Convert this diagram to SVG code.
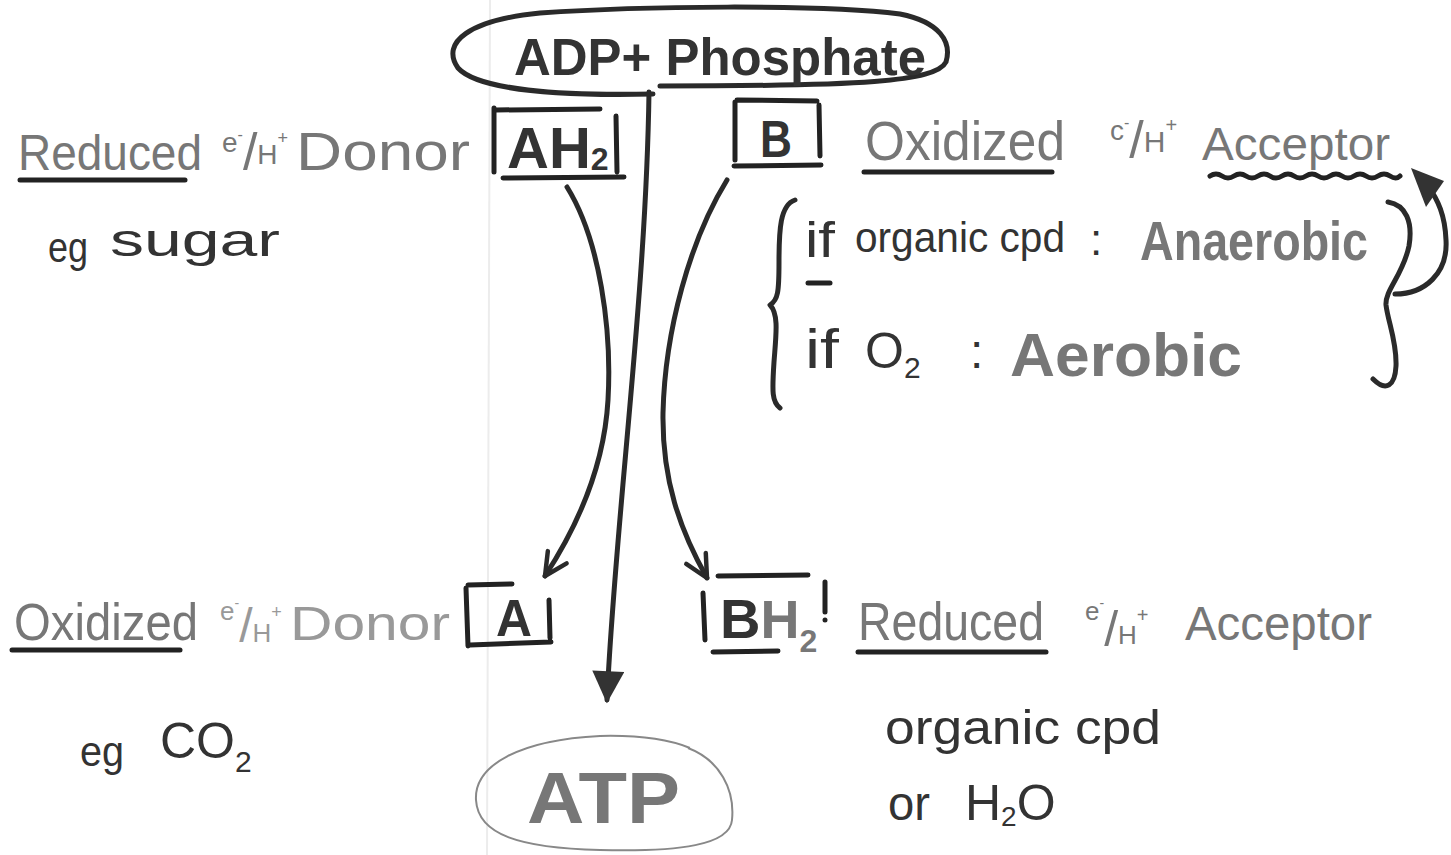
<svg xmlns="http://www.w3.org/2000/svg" width="1451" height="855" viewBox="0 0 1451 855">
<defs>
<style>
text{font-family:"Liberation Sans","DejaVu Sans",sans-serif}
.dk{fill:#333}
.gr{fill:#777}
.lg{fill:#999}
.b{font-weight:bold}
.ln{fill:none;stroke:#2a2a2a;stroke-width:5;stroke-linecap:round;stroke-linejoin:round}
.ul{fill:none;stroke:#222;stroke-width:5;stroke-linecap:round}
.thin{fill:none;stroke:#888;stroke-width:2}
</style>
<marker id="tri" viewBox="0 0 10 10" refX="9" refY="5" markerWidth="40" markerHeight="32" markerUnits="userSpaceOnUse" orient="auto">
<path d="M0,0 L10,5 L0,10 Z" fill="#333"/>
</marker>
<marker id="vee" viewBox="0 0 10 10" refX="9" refY="5" markerWidth="28" markerHeight="28" markerUnits="userSpaceOnUse" orient="auto">
<path d="M1,1 L9,5 L1,9" fill="none" stroke="#2a2a2a" stroke-width="1.6" stroke-linecap="round" stroke-linejoin="round"/>
</marker>
</defs>
<rect width="1451" height="855" fill="#fff"/>
<line x1="490" y1="0" x2="487" y2="855" stroke="#ececec" stroke-width="2"/>

<g id="connectors">
<path class="ln" d="M649,92 C646,300 615,520 607,700" marker-end="url(#tri)"/>
<path class="ln" d="M567,187 C600,240 612,330 608,400 C604,470 575,530 545,576" marker-end="url(#vee)"/>
<path class="ln" d="M727,180 C690,240 665,330 663,413 C662,480 680,530 707,578" marker-end="url(#vee)"/>
<path class="ln" d="M1395,294 C1425,294 1448,273 1446,240 C1445,215 1438,200 1428,186"/>
<path d="M1411,168 L1444,181 L1426,207 Z" fill="#333"/>
</g>

<g id="adp">
<path class="ln" d="M653,94 C560,96 478,90 458,68 C440,42 470,20 540,13 C640,6 820,4 900,14 C940,22 952,42 946,62 C936,82 860,86 660,86"/>
<text class="dk b" x="514" y="75" font-size="52" textLength="412" lengthAdjust="spacingAndGlyphs">ADP+ Phosphate</text>
</g>

<g id="donor-reduced">
<text class="gr" x="18" y="170" font-size="50" textLength="184" lengthAdjust="spacingAndGlyphs">Reduced</text>
<line class="ul" x1="20" y1="180" x2="185" y2="180"/>
<text class="gr" x="222" y="152" font-size="28">e<tspan font-size="16" dy="-12">-</tspan><tspan font-size="52" dy="30">/</tspan><tspan font-size="28" dy="-6">H</tspan><tspan font-size="18" dy="-20">+</tspan></text>
<text class="gr" x="296" y="170" font-size="54" textLength="174" lengthAdjust="spacingAndGlyphs">Donor</text>
<text class="dk" x="48" y="262" font-size="42" textLength="40" lengthAdjust="spacingAndGlyphs">eg</text>
<text class="dk" x="110" y="256" font-size="46" textLength="170" lengthAdjust="spacingAndGlyphs">sugar</text>
</g>

<g id="ah2">
<path class="ul" d="M494,108 L494,172 M496,110 L600,109 M616,116 L617,172 M503,178 L624,177"/>
<text class="dk b" x="507" y="168" font-size="58">AH<tspan font-size="32" dy="2">2</tspan></text>
</g>

<g id="b-box">
<path class="ul" d="M735,102 L735,160 M737,100 L817,101 M819,105 L820,156 M734,166 L821,165"/>
<text class="dk b" x="760" y="157" font-size="52" textLength="32" lengthAdjust="spacingAndGlyphs">B</text>
</g>

<g id="acceptor-oxidized">
<text class="gr" x="865" y="160" font-size="56" textLength="200" lengthAdjust="spacingAndGlyphs">Oxidized</text>
<line class="ul" x1="864" y1="172" x2="1052" y2="172"/>
<text class="gr" x="1110" y="140" font-size="28">c<tspan font-size="16" dy="-12">-</tspan><tspan font-size="52" dy="30">/</tspan><tspan font-size="30" dy="-6">H</tspan><tspan font-size="20" dy="-20">+</tspan></text>
<text class="gr" x="1202" y="160" font-size="46" textLength="188" lengthAdjust="spacingAndGlyphs">Acceptor</text>
<path class="ul" d="M1210,176 q6,-4 12,0 t12,0 t12,0 t12,0 t12,0 t12,0 t12,0 t12,0 t12,0 t12,0 t12,0 t12,0 t12,0 t12,0 t12,0 t10,0"/>
</g>

<g id="conditions">
<path class="ln" d="M795,200 C780,205 779,230 779,262 C779,292 778,300 770,305 C779,314 776,335 774,362 C772,392 772,402 780,408"/>
<text class="dk" x="805" y="257" font-size="50" textLength="30" lengthAdjust="spacingAndGlyphs">if</text>
<line class="ul" x1="808" y1="283" x2="830" y2="283"/>
<text class="dk" x="855" y="252" font-size="42" textLength="210" lengthAdjust="spacingAndGlyphs">organic cpd</text>
<text class="dk" x="1090" y="255" font-size="44">:</text>
<text class="gr b" x="1140" y="260" font-size="56" textLength="228" lengthAdjust="spacingAndGlyphs">Anaerobic</text>
<text class="dk" x="805" y="368" font-size="56" textLength="34" lengthAdjust="spacingAndGlyphs">if</text>
<text class="dk" x="865" y="368" font-size="50">O<tspan font-size="30" dy="10">2</tspan></text>
<text class="dk" x="970" y="368" font-size="48">:</text>
<text class="gr b" x="1010" y="376" font-size="62" textLength="232" lengthAdjust="spacingAndGlyphs">Aerobic</text>
<path class="ln" d="M1388,202 C1406,205 1413,222 1409,246 C1403,275 1385,290 1386,305 C1388,322 1397,342 1396,366 C1395,386 1386,392 1373,379"/>
</g>

<g id="donor-oxidized">
<text class="gr" x="14" y="640" font-size="52" textLength="184" lengthAdjust="spacingAndGlyphs">Oxidized</text>
<line class="ul" x1="12" y1="650" x2="180" y2="650"/>
<text class="lg" x="220" y="620" font-size="26">e<tspan font-size="14" dy="-12">-</tspan><tspan font-size="48" dy="34">/</tspan><tspan font-size="26">H</tspan><tspan font-size="18" dy="-24">+</tspan></text>
<text class="lg" x="290" y="640" font-size="48" textLength="160" lengthAdjust="spacingAndGlyphs">Donor</text>
<text class="dk" x="80" y="766" font-size="42" textLength="44" lengthAdjust="spacingAndGlyphs">eg</text>
<text class="dk" x="160" y="758" font-size="50">CO<tspan font-size="30" dy="14">2</tspan></text>
</g>

<g id="a-box">
<path class="ul" d="M466,588 L468,646 M468,585 L512,584 M549,600 L550,638 M470,645 L551,642"/>
<text class="dk b" x="496" y="636" font-size="52" textLength="36" lengthAdjust="spacingAndGlyphs">A</text>
</g>

<g id="bh2">
<path class="ul" d="M703,593 L705,640 M718,576 L808,575 M713,652 L778,651 M825,582 L825,612"/>
<circle cx="825" cy="620" r="2.5" fill="#222"/>
<text class="dk b" x="720" y="638" font-size="56">B<tspan class="gr" font-size="54">H</tspan><tspan class="gr" font-size="32" dy="14">2</tspan></text>
</g>

<g id="acceptor-reduced">
<text class="gr" x="858" y="640" font-size="54" textLength="186" lengthAdjust="spacingAndGlyphs">Reduced</text>
<line class="ul" x1="858" y1="652" x2="1046" y2="652"/>
<text class="gr" x="1085" y="620" font-size="26">e<tspan font-size="14" dy="-12">-</tspan><tspan font-size="50" dy="38">/</tspan><tspan font-size="26" dy="-2">H</tspan><tspan font-size="20" dy="-22">+</tspan></text>
<text class="gr" x="1185" y="640" font-size="48" textLength="187" lengthAdjust="spacingAndGlyphs">Acceptor</text>
<text class="dk" x="885" y="744" font-size="48" textLength="276" lengthAdjust="spacingAndGlyphs">organic cpd</text>
<text class="dk" x="888" y="820" font-size="48" textLength="42" lengthAdjust="spacingAndGlyphs">or</text>
<text class="dk" x="965" y="820" font-size="50">H<tspan font-size="28" dy="6">2</tspan><tspan dy="-6">O</tspan></text>
</g>

<g id="atp">
<path class="thin" d="M688,748 C720,760 735,790 732,820 C730,845 680,852 600,850 C520,848 478,835 476,800 C474,765 520,740 600,736 C640,735 670,740 690,748"/>
<text class="gr b" x="527" y="823" font-size="72" textLength="153" lengthAdjust="spacingAndGlyphs">ATP</text>
</g>
</svg>
